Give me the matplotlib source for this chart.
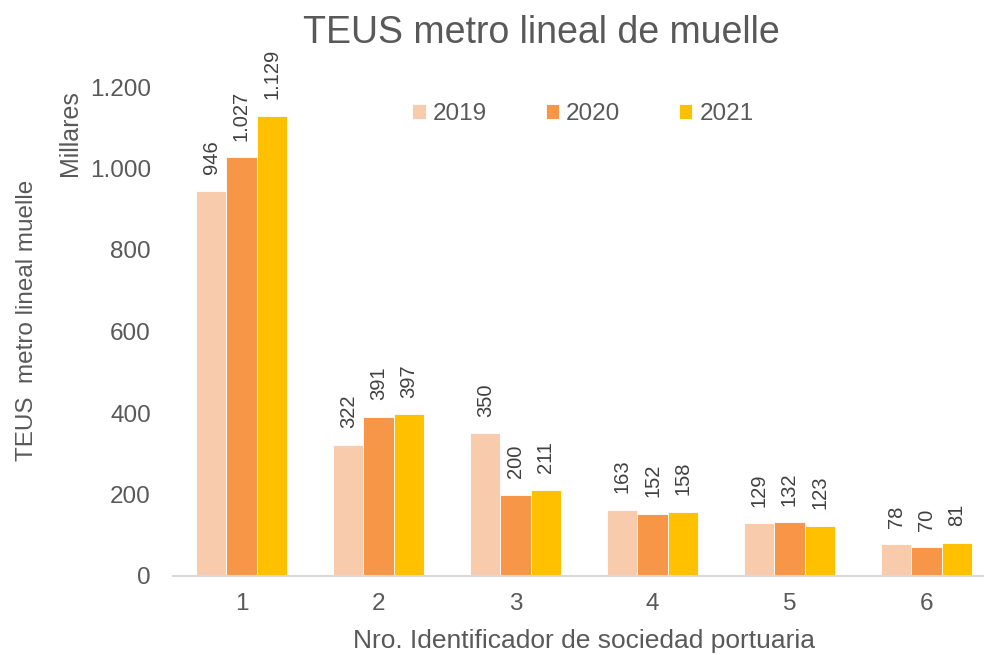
import numpy as np
import matplotlib.pyplot as plt
from matplotlib.ticker import FuncFormatter

plt.rcParams['font.family'] = ['Liberation Sans', 'DejaVu Sans']

categories = ["1", "2", "3", "4", "5", "6"]
years = ["2019", "2020", "2021"]
teus_2019 = [946, 322, 350, 163, 129, 78]
teus_2020 = [1027, 391, 200, 152, 132, 70]
teus_2021 = [1129, 397, 211, 158, 123, 81]
colors = ["#F8CBAD", "#F79646", "#FFC000"]
text_color = "#595959"


def miles(v, pos=None):
    return f"{int(round(v)):,}".replace(",", ".")


fig = plt.figure(figsize=(9.84, 6.55), dpi=100)
ax = fig.add_axes([173 / 984, 79 / 655, 822 / 984, 489 / 655])

x = np.arange(len(categories))
width = 0.219
series = [teus_2019, teus_2020, teus_2021]
for i, (vals, col, yr) in enumerate(zip(series, colors, years)):
    pos = x + (i - 1) * width
    bars = ax.bar(pos, vals, width, color=col, edgecolor="white",
                  linewidth=0.6, label=yr, zorder=2)
    for b, v in zip(bars, vals):
        ax.annotate(miles(v), (b.get_x() + b.get_width() / 2, v),
                    xytext=(0, 12), textcoords="offset points",
                    rotation=90, ha="center", va="bottom",
                    fontsize=14.5, color="#404040")

ax.set_xlim(-0.5, len(categories) - 0.5)
ax.set_ylim(0, 1200)
ax.set_yticks(np.arange(0, 1201, 200))
ax.yaxis.set_major_formatter(FuncFormatter(miles))
ax.set_xticks(x)
ax.set_xticklabels(categories)
ax.tick_params(axis="both", length=0, labelsize=17.5, colors=text_color)
ax.tick_params(axis="x", pad=12)
ax.tick_params(axis="y", pad=16)

for s in ["top", "right", "left"]:
    ax.spines[s].set_visible(False)
ax.spines["bottom"].set_color("#D9D9D9")
ax.spines["bottom"].set_linewidth(1.5)

ax.set_xlabel("Nro. Identificador de sociedad portuaria", fontsize=19,
              color=text_color, labelpad=10)
fig.text(27 / 984, 1 - 320 / 655, "TEUS  metro lineal muelle", rotation=90,
         ha="center", va="center", fontsize=17.5, color=text_color)
fig.text(70 / 984, 1 - 133 / 655, "Millares", rotation=90,
         ha="center", va="center", fontsize=18, color=text_color)

fig.text(541 / 984, 1 - 33 / 655, "TEUS metro lineal de muelle",
         ha="center", va="center", fontsize=27, color=text_color)

fig.legend(loc="center", bbox_to_anchor=(583 / 984, 1 - 114 / 655), ncol=3,
           frameon=False, fontsize=17.5, handlelength=0.55, handleheight=0.55,
           handletextpad=0.3, columnspacing=2.4, labelcolor=text_color)

fig.savefig("out.png", dpi=100)
